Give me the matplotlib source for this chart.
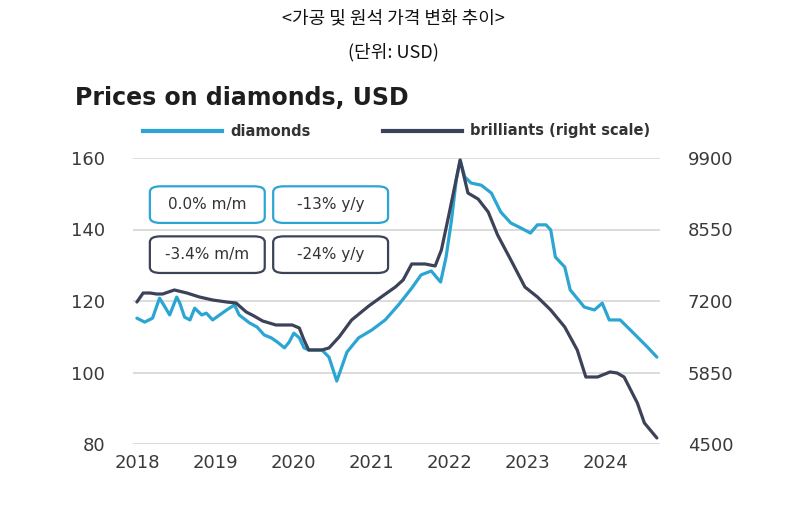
import matplotlib
matplotlib.use("Agg")
import matplotlib.pyplot as plt
from matplotlib.lines import Line2D
from matplotlib.patches import FancyBboxPatch

# diamonds (left scale)
dia_t = [2018.00, 2018.10, 2018.20, 2018.29, 2018.36, 2018.42, 2018.51, 2018.55,
         2018.61, 2018.68, 2018.74, 2018.83, 2018.89, 2018.97, 2019.06, 2019.15,
         2019.25, 2019.31, 2019.44, 2019.54, 2019.63, 2019.72, 2019.80, 2019.89,
         2019.95, 2020.01, 2020.08, 2020.14, 2020.20, 2020.37, 2020.46, 2020.56,
         2020.69, 2020.84, 2021.01, 2021.18, 2021.35, 2021.52, 2021.64, 2021.77,
         2021.89, 2021.96, 2022.03, 2022.09, 2022.14, 2022.20, 2022.28, 2022.41,
         2022.54, 2022.66, 2022.79, 2022.92, 2023.04, 2023.13, 2023.24, 2023.30,
         2023.36, 2023.48, 2023.55, 2023.73, 2023.86, 2023.96, 2024.05, 2024.19,
         2024.32, 2024.54, 2024.66]
dia_v = [115.2, 114.1, 115.2, 120.8, 118.3, 116.1, 121.1, 119.4,
         115.5, 114.7, 118.0, 116.1, 116.6, 114.7, 116.1, 117.5,
         118.9, 116.1, 113.9, 112.7, 110.5, 109.7, 108.5, 106.9,
         108.5, 111.0, 109.7, 106.9, 106.3, 106.3, 104.3, 97.6,
         105.7, 109.7, 111.9, 114.7, 118.9, 123.6, 127.3, 128.4,
         125.3, 132.3, 142.7, 153.8, 159.4, 154.7, 153.0, 152.4,
         150.2, 144.9, 141.8, 140.4, 139.0, 141.3, 141.3, 139.9,
         132.3, 129.5, 123.1, 118.3, 117.5, 119.4, 114.7, 114.7,
         111.9, 107.1, 104.3]

# brilliants (right scale)
bri_t = [2018.00, 2018.08, 2018.17, 2018.25, 2018.33, 2018.48, 2018.64, 2018.80,
         2018.97, 2019.15, 2019.27, 2019.40, 2019.50, 2019.61, 2019.78, 2019.99,
         2020.08, 2020.14, 2020.20, 2020.37, 2020.46, 2020.59, 2020.75, 2020.97,
         2021.13, 2021.31, 2021.41, 2021.52, 2021.69, 2021.82, 2021.90, 2021.99,
         2022.08, 2022.14, 2022.24, 2022.37, 2022.50, 2022.62, 2022.79, 2022.97,
         2023.13, 2023.30, 2023.48, 2023.64, 2023.75, 2023.90, 2024.06, 2024.15,
         2024.24, 2024.41, 2024.50, 2024.66]
bri_v = [7181, 7351, 7351, 7332, 7332, 7408, 7351, 7276,
         7219, 7181, 7162, 6993, 6917, 6823, 6747, 6747,
         6690, 6464, 6275, 6275, 6313, 6521, 6841, 7106,
         7276, 7464, 7597, 7899, 7899, 7861, 8163, 8786,
         9428, 9862, 9239, 9126, 8880, 8446, 7974, 7464,
         7276, 7030, 6709, 6275, 5765, 5765, 5860, 5841,
         5765, 5274, 4897, 4614]

years = [2018, 2019, 2020, 2021, 2022, 2023, 2024]
left_ticks = [80, 100, 120, 140, 160]
right_ticks = [4500, 5850, 7200, 8550, 9900]

boxes = [("0.0% m/m", "-13% y/y"), ("-3.4% m/m", "-24% y/y")]

BLUE = "#2ba6d3"
DARK = "#3c4258"
GRID = "#d9d9d9"
TXT = "#3a3a3a"
KR = ["Noto Sans CJK KR", "DejaVu Sans"]

plt.rcParams["font.family"] = ["DejaVu Sans"]

fig = plt.figure(figsize=(7.87, 5.27), dpi=100)
ax = fig.add_axes([133 / 787, 1 - 444 / 527, 527 / 787, 286 / 527])

ax.plot(dia_t, dia_v, color=BLUE, lw=2.3, solid_capstyle="round", zorder=3)
ax.set_ylim(80, 160)
ax.set_xlim(2017.95, 2024.7)
ax.set_yticks(left_ticks)
ax.set_xticks(years)
ax.set_xticklabels([str(y) for y in years])
ax.grid(axis="y", color=GRID, lw=1.3)
ax.set_axisbelow(True)
for s in ax.spines.values():
    s.set_visible(False)
ax.tick_params(length=0, labelsize=13, colors=TXT, pad=20)
ax.tick_params(axis="x", pad=7)

ax2 = ax.twinx()
ax2.plot(bri_t, bri_v, color=DARK, lw=2.3, solid_capstyle="round", zorder=3)
ax2.set_ylim(4500, 9900)
ax2.set_yticks(right_ticks)
for s in ax2.spines.values():
    s.set_visible(False)
ax2.tick_params(length=0, labelsize=13, colors=TXT, pad=20)

# stat boxes
bw, bh = 0.218, 0.128
xs = [0.032, 0.266]
ys = [0.773, 0.598]
for row, (texts, ec) in enumerate(zip(boxes, [BLUE, DARK])):
    for col, txt in enumerate(texts):
        p = FancyBboxPatch((xs[col], ys[row]), bw, bh,
                           boxstyle="round,pad=0,rounding_size=0.02",
                           transform=ax.transAxes, fc="white", ec=ec,
                           lw=1.6, zorder=5)
        ax.add_patch(p)
        ax.text(xs[col] + bw / 2, ys[row] + bh / 2, txt, transform=ax.transAxes,
                ha="center", va="center", fontsize=11, color="#333333", zorder=6)

# titles
fig.text(0.5, 1 - 18 / 527, "<가공 및 원석 가격 변화 추이>", ha="center", va="center",
         fontsize=13, family=KR, color="#111111")
fig.text(0.5, 1 - 52 / 527, "(단위: USD)", ha="center", va="center",
         fontsize=13, family=KR, color="#111111")
fig.text(75 / 787, 1 - 98 / 527, "Prices on diamonds, USD", ha="left", va="center",
         fontsize=17, fontweight="bold", color="#1e1e1e")

# legend
ly = 1 - 131 / 527
fig.add_artist(Line2D([143 / 787, 222 / 787], [ly, ly], color=BLUE, lw=3))
fig.text(230 / 787, ly, "diamonds", ha="left", va="center", fontsize=10.5,
         fontweight="bold", color="#333333")
fig.add_artist(Line2D([383 / 787, 462 / 787], [ly, ly], color=DARK, lw=3))
fig.text(470 / 787, ly, "brilliants (right scale)", ha="left", va="center",
         fontsize=10.5, fontweight="bold", color="#333333")

fig.savefig("out.png", dpi=100, facecolor="white")
